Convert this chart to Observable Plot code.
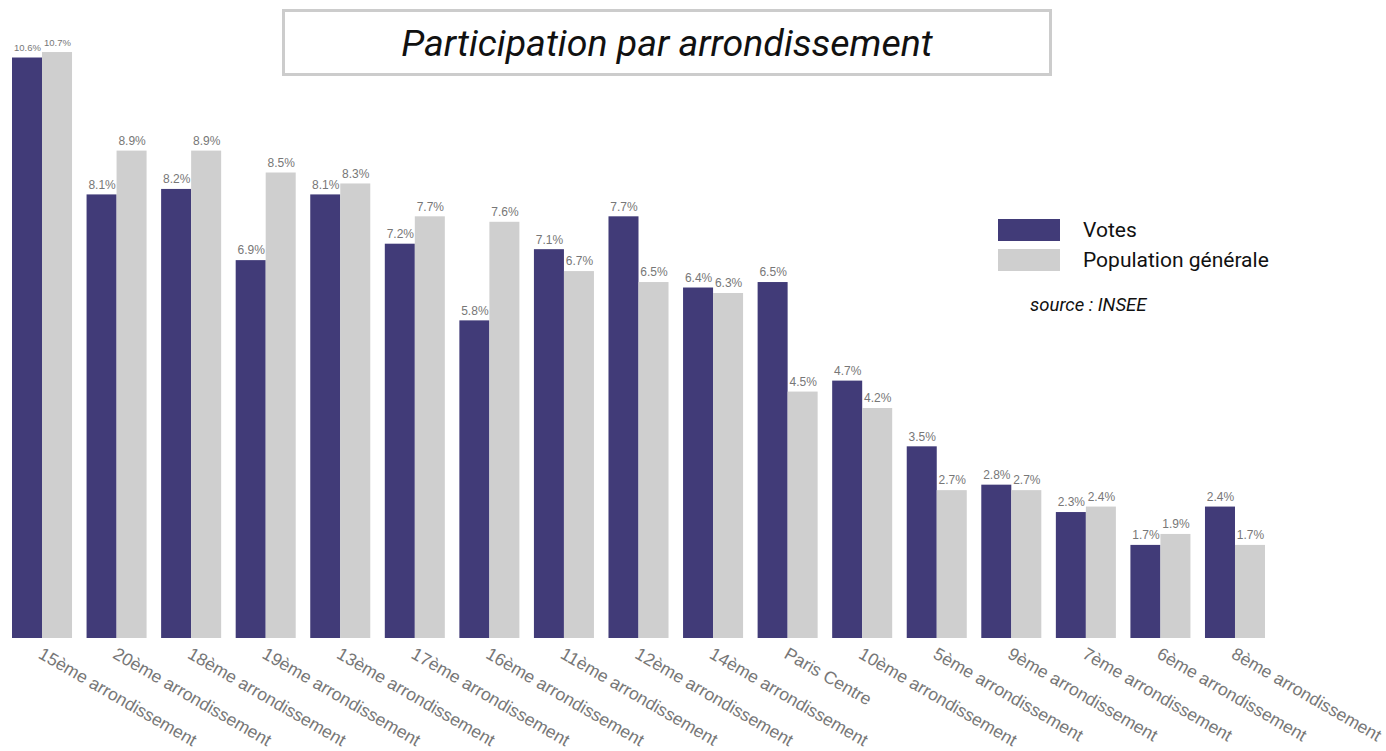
<!DOCTYPE html>
<html>
<head>
<meta charset="utf-8">
<script src="https://cdn.jsdelivr.net/npm/d3@7"></script>
<script src="https://cdn.jsdelivr.net/npm/@observablehq/plot@0.6"></script>
<style>
  html, body { margin: 0; padding: 0; background: #fff; }
  #wrap { position: relative; width: 1386px; height: 751px; overflow: hidden; }
  #chart { position: absolute; left: 0; top: 0; }
  #title {
    position: absolute; left: 282px; top: 9px; width: 764px; height: 61px;
    border: 3px solid #cccccc; background: #fff;
    font-family: Roboto, sans-serif; font-style: italic; font-size: 37.5px; color: #111;
    display: flex; align-items: center; justify-content: center; box-sizing: content-box;
  }
  #legend { position: absolute; left: 998px; top: 219px; font-family: Roboto, sans-serif; font-size: 21px; color: #111; }
  .row { display: flex; align-items: center; height: 22px; margin-bottom: 8px; }
  .sw { width: 62px; height: 22px; margin-right: 23px; }
  #source { position: absolute; left: 1030px; top: 294px; font-family: Roboto, sans-serif; font-style: italic; font-size: 18.5px; color: #111; }
</style>
</head>
<body>
<div id="wrap">
  <div id="chart"></div>
  <div id="title">Participation par arrondissement</div>
  <div id="legend">
    <div class="row"><div class="sw" style="background:#413b78"></div>Votes</div>
    <div class="row"><div class="sw" style="background:#cfcfcf"></div>Population générale</div>
  </div>
  <div id="source">source : INSEE</div>
</div>
<script>
const districts = ["15ème arrondissement","20ème arrondissement","18ème arrondissement","19ème arrondissement","13ème arrondissement","17ème arrondissement","16ème arrondissement","11ème arrondissement","12ème arrondissement","14ème arrondissement","Paris Centre","10ème arrondissement","5ème arrondissement","9ème arrondissement","7ème arrondissement","6ème arrondissement","8ème arrondissement"];
const votes = [10.6, 8.1, 8.2, 6.9, 8.1, 7.2, 5.8, 7.1, 7.7, 6.4, 6.5, 4.7, 3.5, 2.8, 2.3, 1.7, 2.4];
const population = [10.7, 8.9, 8.9, 8.5, 8.3, 7.7, 7.6, 6.7, 6.5, 6.3, 4.5, 4.2, 2.7, 2.7, 2.4, 1.9, 1.7];
const seriesNames = ["Votes", "Population générale"];
const seriesColors = ["#413b78", "#cfcfcf"];

const data = [];
districts.forEach((d, i) => {
  data.push({district: d, series: seriesNames[0], value: votes[i]});
  data.push({district: d, series: seriesNames[1], value: population[i]});
});

const chart = Plot.plot({
  width: 1386,
  height: 751,
  marginTop: 0,
  marginBottom: 113,
  marginLeft: 12,
  marginRight: 121,
  fx: {domain: districts, paddingInner: 0.195, paddingOuter: 0, round: false, axis: null},
  x: {domain: seriesNames, padding: 0, round: false, axis: null},
  y: {domain: [0, 11.65], axis: null},
  color: {domain: seriesNames, range: seriesColors},
  marks: [
    Plot.barY(data, {fx: "district", x: "series", y: "value", fill: "series"}),
    Plot.text(data, {
      fx: "district", x: "series", y: "value",
      text: d => d.value.toFixed(1) + "%",
      dy: -10,
      fontSize: d => d.value >= 10 ? 9.5 : 12,
      fill: "#777",
      fontFamily: "Liberation Sans, Arial, sans-serif"
    }),
    Plot.text(districts, {
      fx: d => d,
      text: d => d,
      frameAnchor: "bottom",
      dy: 8,
      dx: 1,
      rotate: 30,
      textAnchor: "start",
      lineAnchor: "top",
      fontSize: 17.5,
      fill: "#777",
      fontFamily: "Liberation Sans, Arial, sans-serif"
    })
  ]
});
document.getElementById("chart").appendChild(chart);
</script>
</body>
</html>
